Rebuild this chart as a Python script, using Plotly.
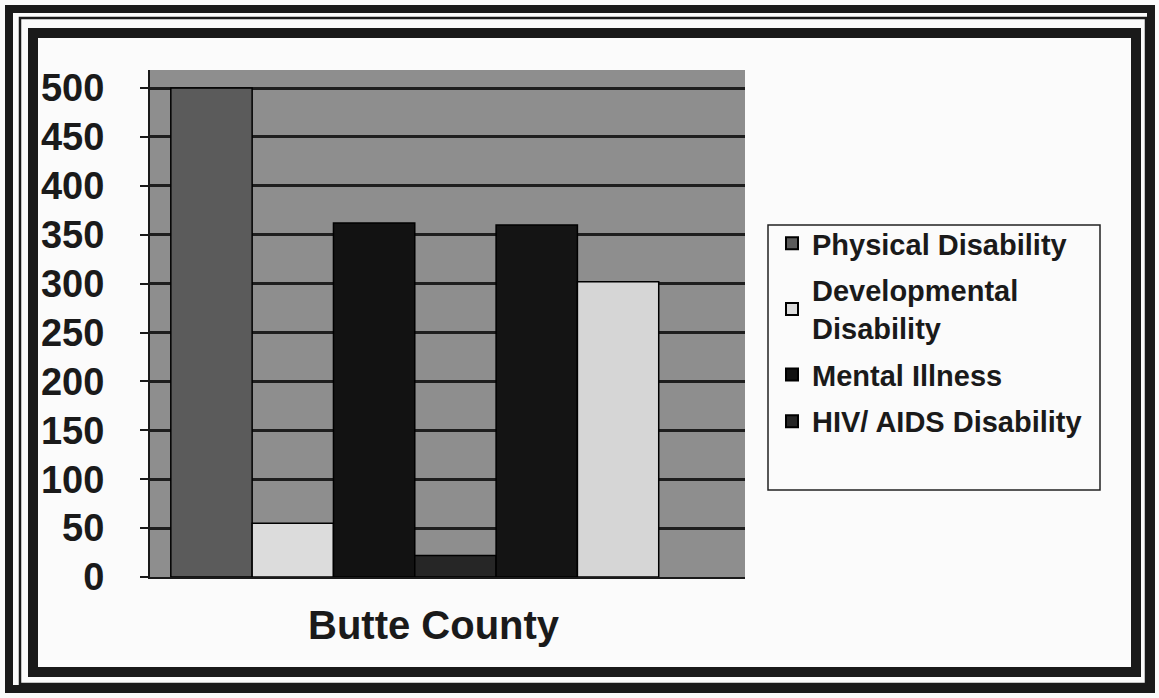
import plotly.graph_objects as go

# ---- data ----
category = ["Butte County"]
series_names = ["Physical Disability", "Developmental<br>Disability", "Mental Illness",
                "HIV/ AIDS Disability", "Series 5", "Series 6"]
series_values = [500, 55, 362, 22, 360, 302]
series_colors = ["#5b5b5b", "#dcdcdc", "#121212", "#262626", "#141414", "#d6d6d6"]
series_in_legend = [True, True, True, True, False, False]
y_ticks = [0, 50, 100, 150, 200, 250, 300, 350, 400, 450, 500]

W, H = 1159, 698
L, R, T, B = 150, 414, 70, 121
PW, PH = W - L - R, H - T - B


def px(x):
    return (x - L) / PW


def py(y):
    return (H - B - y) / PH


FONT = "Liberation Sans, Arial, sans-serif"

fig = go.Figure()
for name, val, col, show in zip(series_names, series_values, series_colors, series_in_legend):
    fig.add_trace(go.Bar(
        x=category, y=[val], name=name, marker_color=col,
        marker_line_color="#000000", marker_line_width=1.5,
        showlegend=show, legendgroup=name,
    ))

shapes = []
# legend box
shapes.append(dict(type="rect", xref="paper", yref="paper",
                   x0=px(768), x1=px(1100), y0=py(225), y1=py(490),
                   line=dict(color="#222", width=1.5), fillcolor="rgba(0,0,0,0)", layer="below"))
# triple frame
for (x0, y0, x1, y1, w) in [(9, 9, 1151, 689, 8), (20, 18, 1146, 684, 2.5), (33, 33, 1136, 672, 10)]:
    shapes.append(dict(type="rect", xref="paper", yref="paper",
                       x0=px(x0), x1=px(x1), y0=py(y0), y1=py(y1),
                       line=dict(color="#1a1a1a", width=w), fillcolor="rgba(0,0,0,0)", layer="above"))

fig.update_layout(
    width=W, height=H,
    margin=dict(l=L, r=R, t=T, b=B),
    paper_bgcolor="#fbfbfb",
    plot_bgcolor="#8e8e8e",
    barmode="group",
    bargap=0.18,
    bargroupgap=0.0,
    font=dict(family=FONT, color="#1a1a1a"),
    showlegend=True,
    legend=dict(x=px(772), y=py(218), xanchor="left", yanchor="top",
                bgcolor="rgba(0,0,0,0)", borderwidth=0,
                font=dict(family=FONT, size=29, color="#1a1a1a", weight="bold"),
                tracegroupgap=6, itemsizing="constant"),
    xaxis=dict(showticklabels=False, range=[-0.445, 0.555], showline=True,
               linecolor="#1a1a1a", linewidth=2, showgrid=False, zeroline=False),
    yaxis=dict(range=[0, PH / 0.978], tickvals=y_ticks, ticks="outside", ticklen=8,
               tickwidth=2, tickcolor="#1a1a1a", showline=True, linecolor="#1a1a1a",
               linewidth=2, gridcolor="#1e1e1e", gridwidth=3, zeroline=False,
               tickfont=dict(family=FONT, size=38, color="#1a1a1a", weight="bold"),
               ticklabelstandoff=28),
    shapes=shapes,
    annotations=[dict(text="<b>Butte County</b>", xref="paper", yref="paper",
                      x=px(434), y=py(625), xanchor="center", yanchor="middle",
                      showarrow=False,
                      font=dict(family=FONT, size=40, color="#1a1a1a"))],
)

fig.write_html("out.html", config={"displayModeBar": False},
               post_script="document.body.style.margin='0';")
